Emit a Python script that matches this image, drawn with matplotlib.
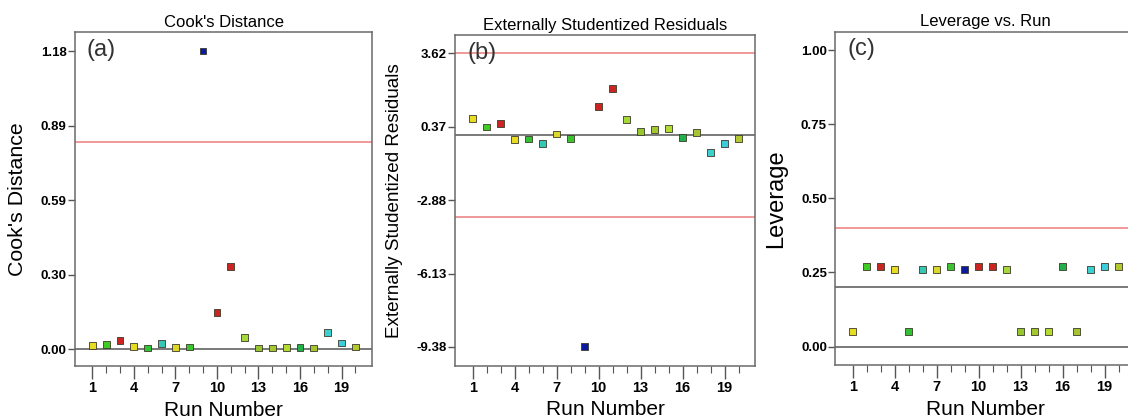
import matplotlib.pyplot as plt
from matplotlib.ticker import FixedLocator

# Run numbers and per-run colours (coloured by response value)
runs = list(range(1, 21))
run_colors = ["#e8dc22", "#3fcc22", "#cc2420", "#e8dc22", "#33c233", "#34c8b4",
              "#dcd82a", "#3cc430", "#0c1aa0", "#cc2420", "#cc2420", "#a6d83a",
              "#96c630", "#a4c830", "#b4dc30", "#22b04a", "#a6c430", "#3cd0d0",
              "#3cccdc", "#b4c830"]

# (a) Cook's distance
cooks = [0.013, 0.017, 0.033, 0.009, 0.004, 0.022, 0.005, 0.008, 1.18, 0.144,
         0.327, 0.046, 0.004, 0.004, 0.006, 0.006, 0.004, 0.065, 0.024, 0.008]
cooks_limit = 0.82
cooks_ticks = [0.0, 0.295, 0.59, 0.885, 1.18]
cooks_ticklabels = ["0.00", "0.30", "0.59", "0.89", "1.18"]

# (b) Externally studentized residuals
resid = [0.74, 0.36, 0.53, -0.19, -0.17, -0.37, 0.05, -0.14, -9.36, 1.26,
         2.07, 0.68, 0.17, 0.24, 0.28, -0.09, 0.12, -0.76, -0.38, -0.16]
resid_limits = [3.62, -3.62]
resid_ticks = [-9.38, -6.13, -2.88, 0.37, 3.62]
resid_ticklabels = ["-9.38", "-6.13", "-2.88", "0.37", "3.62"]

# (c) Leverage
leverage = [0.05, 0.27, 0.27, 0.26, 0.05, 0.26, 0.26, 0.27, 0.26, 0.27,
            0.27, 0.26, 0.05, 0.05, 0.05, 0.27, 0.05, 0.26, 0.27, 0.27]
lev_limit = 0.40
lev_avg = 0.20
lev_ticks = [0.0, 0.25, 0.5, 0.75, 1.0]
lev_ticklabels = ["0.00", "0.25", "0.50", "0.75", "1.00"]

xticks_major = [1, 4, 7, 10, 13, 16, 19]

plt.rcParams['font.family'] = ['Liberation Sans', 'DejaVu Sans']

fig = plt.figure(figsize=(11.28, 4.2), dpi=100)

panels = [
    dict(pos=[0.0665, 0.1286, 0.2633, 0.795], y=cooks, ylim=(-0.067, 1.255),
         ticks=cooks_ticks, labels=cooks_ticklabels, red=[cooks_limit], black=[0.0],
         title="Cook's Distance", ylabel="Cook's Distance", ylsize=15.4, ylx=-0.162,
         tag="(a)"),
    dict(pos=[0.4036, 0.1293, 0.266, 0.787], y=resid, ylim=(-10.21, 4.43),
         ticks=resid_ticks, labels=resid_ticklabels, red=resid_limits, black=[0.0],
         title="Externally Studentized Residuals",
         ylabel="Externally Studentized Residuals", ylsize=13.6, ylx=-0.175, tag="(b)"),
    dict(pos=[0.7405, 0.131, 0.266, 0.7936], y=leverage, ylim=(-0.062, 1.062),
         ticks=lev_ticks, labels=lev_ticklabels, red=[lev_limit], black=[0.0, lev_avg],
         title="Leverage vs. Run", ylabel="Leverage", ylsize=17, ylx=-0.161, tag="(c)"),
]

for p in panels:
    ax = fig.add_axes(p["pos"])
    for v in p["red"]:
        ax.axhline(v, color="#ec7c7c", lw=1.1, zorder=1)
    for v in p["black"]:
        ax.axhline(v, color="#555555", lw=1.1, zorder=1)
    ax.scatter(runs, p["y"], marker="s", s=24, c=run_colors,
               edgecolors="#3a3a2a", linewidths=0.6, zorder=3)

    ax.set_xlim(-0.25, 21.2)
    ax.set_ylim(*p["ylim"])
    ax.xaxis.set_major_locator(FixedLocator(xticks_major))
    ax.xaxis.set_minor_locator(FixedLocator(runs))
    ax.set_yticks(p["ticks"])
    ax.set_yticklabels(p["labels"], fontweight="bold")
    for lbl in ax.get_xticklabels():
        lbl.set_fontweight("bold")
    ax.tick_params(axis="x", which="major", length=9, width=1, color="#555555",
                   labelsize=10.5, pad=2)
    ax.tick_params(axis="x", which="minor", length=5, width=0.8, color="#555555")
    ax.tick_params(axis="y", length=5, width=1, color="#555555", labelsize=9.5, pad=1)
    for s in ax.spines.values():
        s.set_color("#6a6a6a")
        s.set_linewidth(1.1)

    ax.set_title(p["title"], fontsize=12, pad=4)
    ax.set_ylabel(p["ylabel"], fontsize=p["ylsize"])
    ax.yaxis.set_label_coords(p["ylx"], 0.5)
    ax.set_xlabel("Run Number", fontsize=15)
    ax.xaxis.set_label_coords(0.5, -0.105)
    ax.text(0.04, 0.98, p["tag"], transform=ax.transAxes, fontsize=17,
            va="top", ha="left", color="#333333")

plt.savefig("out.png", dpi=100)
